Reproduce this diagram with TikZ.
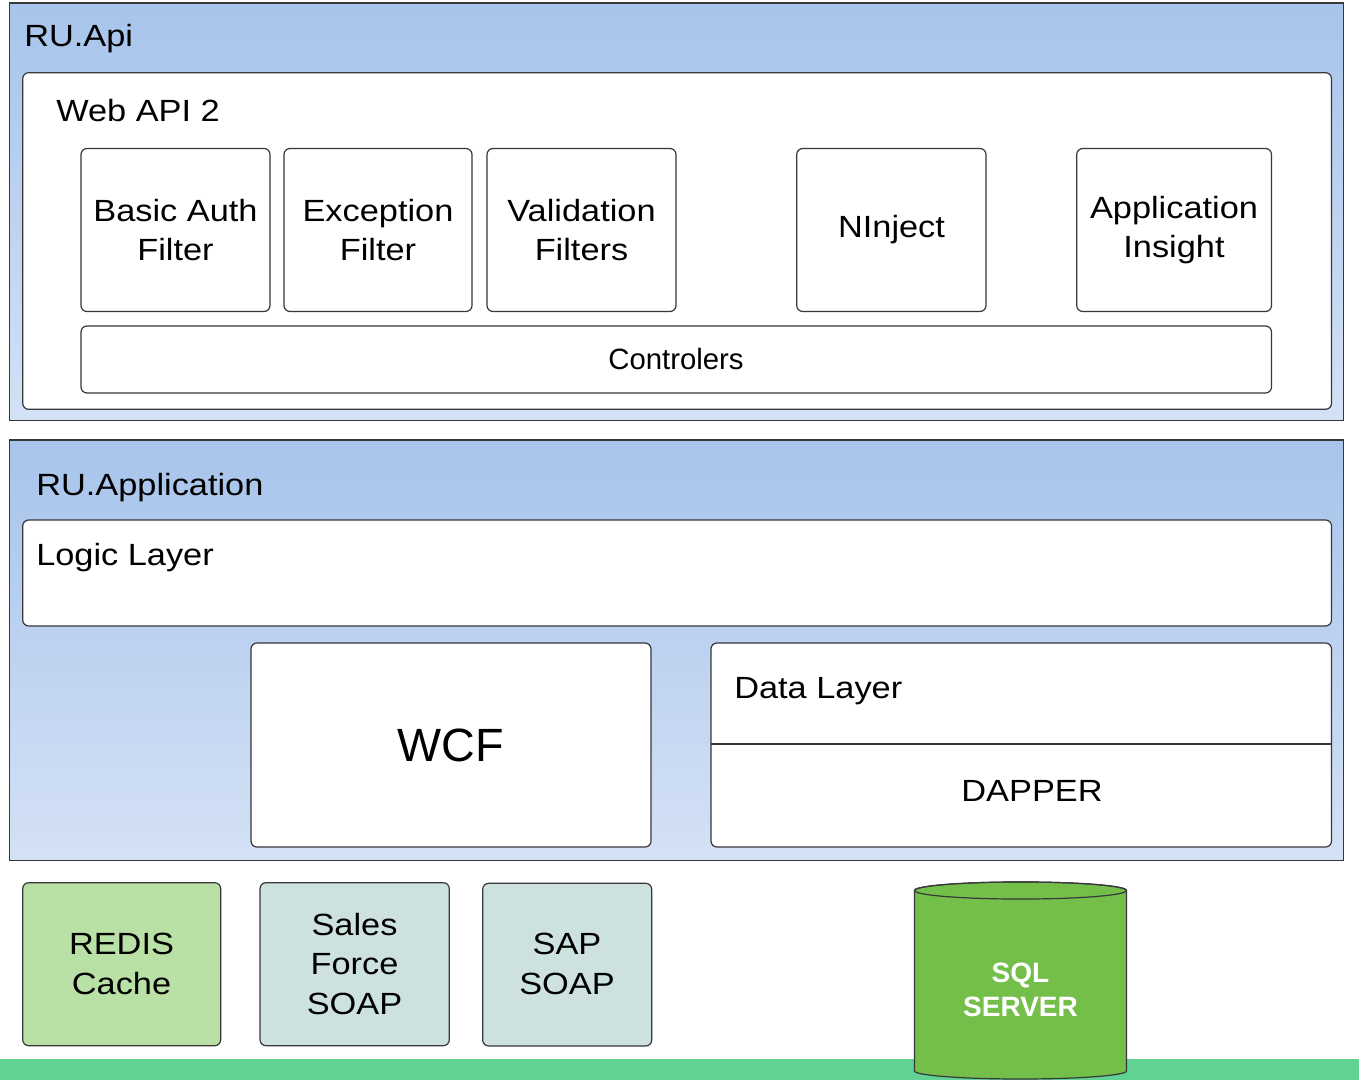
\documentclass[tikz,border=0pt]{standalone}
\usepackage{fontspec}
\setmainfont{Liberation Sans}[FakeStretch=1.12]
\newfontfamily\plainfont{Liberation Sans}
\definecolor{panelTop}{RGB}{167,196,235}
\definecolor{panelBot}{RGB}{212,225,245}
\definecolor{edge}{RGB}{55,55,60}
\definecolor{redisfill}{RGB}{185,224,165}
\definecolor{soapfill}{RGB}{205,226,223}
\definecolor{sqlfill}{RGB}{115,191,74}
\definecolor{barfill}{RGB}{96,211,148}
\begin{document}
\begin{tikzpicture}[x=0.75pt,y=-0.75pt,
  panel/.style={draw=edge,line width=1.1pt,top color=panelTop,bottom color=panelBot},
  box/.style={draw=edge,line width=0.9pt,fill=white,rounded corners=4.5pt},
  extbox/.style={draw=edge,line width=0.9pt,rounded corners=4.5pt},
  lbl/.style={anchor=base west,inner sep=0pt,font=\fontsize{23}{28}\selectfont},
  ctext/.style={align=center,inner sep=0pt,font=\fontsize{23}{29.5}\selectfont},
]
\useasboundingbox (0,0) rectangle (1359,1080);
\fill[white] (0,0) rectangle (1359,1080);
% bottom bar
\fill[barfill] (0,1058.5) rectangle (1359,1080);

% RU.Api panel
\path[panel] (9.5,3) rectangle (1343.5,420.5);
\path[box] (22.7,72.7) rectangle (1331.5,409.3);
\path[box] (81,148.5) rectangle (270,311.5);
\path[box] (284,148.5) rectangle (472,311.5);
\path[box] (487,148.5) rectangle (676,311.5);
\path[box] (796.7,148.5) rectangle (986,311.5);
\path[box] (1076.7,148.5) rectangle (1271.5,311.5);
\path[box] (81,326) rectangle (1271.5,393);

% RU.Application panel
\path[panel] (9.5,440) rectangle (1343.5,860.5);
\path[box] (22.7,520) rectangle (1331.5,626);
\path[box] (251,643) rectangle (651,847);
\path[box] (711,643) rectangle (1331.5,847);
\draw[edge,line width=0.9pt] (711,744) -- (1331.5,744);

% external boxes
\path[extbox,fill=redisfill] (22.7,882.7) rectangle (220.7,1045.7);
\path[extbox,fill=soapfill] (260,882.7) rectangle (449.3,1045.7);
\path[extbox,fill=soapfill] (482.7,883.3) rectangle (651.7,1046);

% SQL cylinder
\path[draw=edge,line width=0.9pt,fill=sqlfill] (914.5,890.5) -- (914.5,1071)
  arc[start angle=180,end angle=360,x radius=79.5pt,y radius=6pt]
  -- (1126.5,890.5)
  arc[start angle=0,end angle=180,x radius=79.5pt,y radius=6.4pt] -- cycle;
\draw[edge,line width=0.9pt] (1020.5,890.5) ellipse [x radius=79.5pt,y radius=6.4pt];

% texts
\node[lbl] (ruapi) at (24,47) {RU.Api};
\node[lbl] (webapi) at (56,122) {Web API 2};
\node[ctext] (basic) at (175.5,230) {Basic Auth\\Filter};
\node[ctext] (exc) at (378,230) {Exception\\Filter};
\node[ctext] (val) at (581.5,230) {Validation\\Filters};
\node[ctext] (ninj) at (891.5,230) {NInject};
\node[ctext] (appins) at (1174,230) {Application\\Insight};
\node[inner sep=0pt,font=\plainfont\fontsize{22}{26}\selectfont] (ctrl) at (676,359.5) {Controlers};
\node[lbl] (ruapp) at (36,495) {RU.Application};
\node[lbl] (logic) at (36,565) {Logic Layer};
\node[inner sep=0pt,font=\plainfont\fontsize{35}{40}\selectfont] (wcf) at (451,745) {WCF};
\node[lbl] (data) at (734,698) {Data Layer};
\node[ctext] (dapper) at (1032,791) {DAPPER};
\node[ctext] (redis) at (121.5,964) {REDIS\\Cache};
\node[ctext] (sales) at (354.5,964) {Sales\\Force\\SOAP};
\node[ctext] (sap) at (567,964) {SAP\\SOAP};
\node[align=center,inner sep=0pt,text=white,font=\plainfont\bfseries\fontsize{21}{26}\selectfont] (sql) at (1020.5,990) {SQL\\SERVER};
\end{tikzpicture}
\end{document}
